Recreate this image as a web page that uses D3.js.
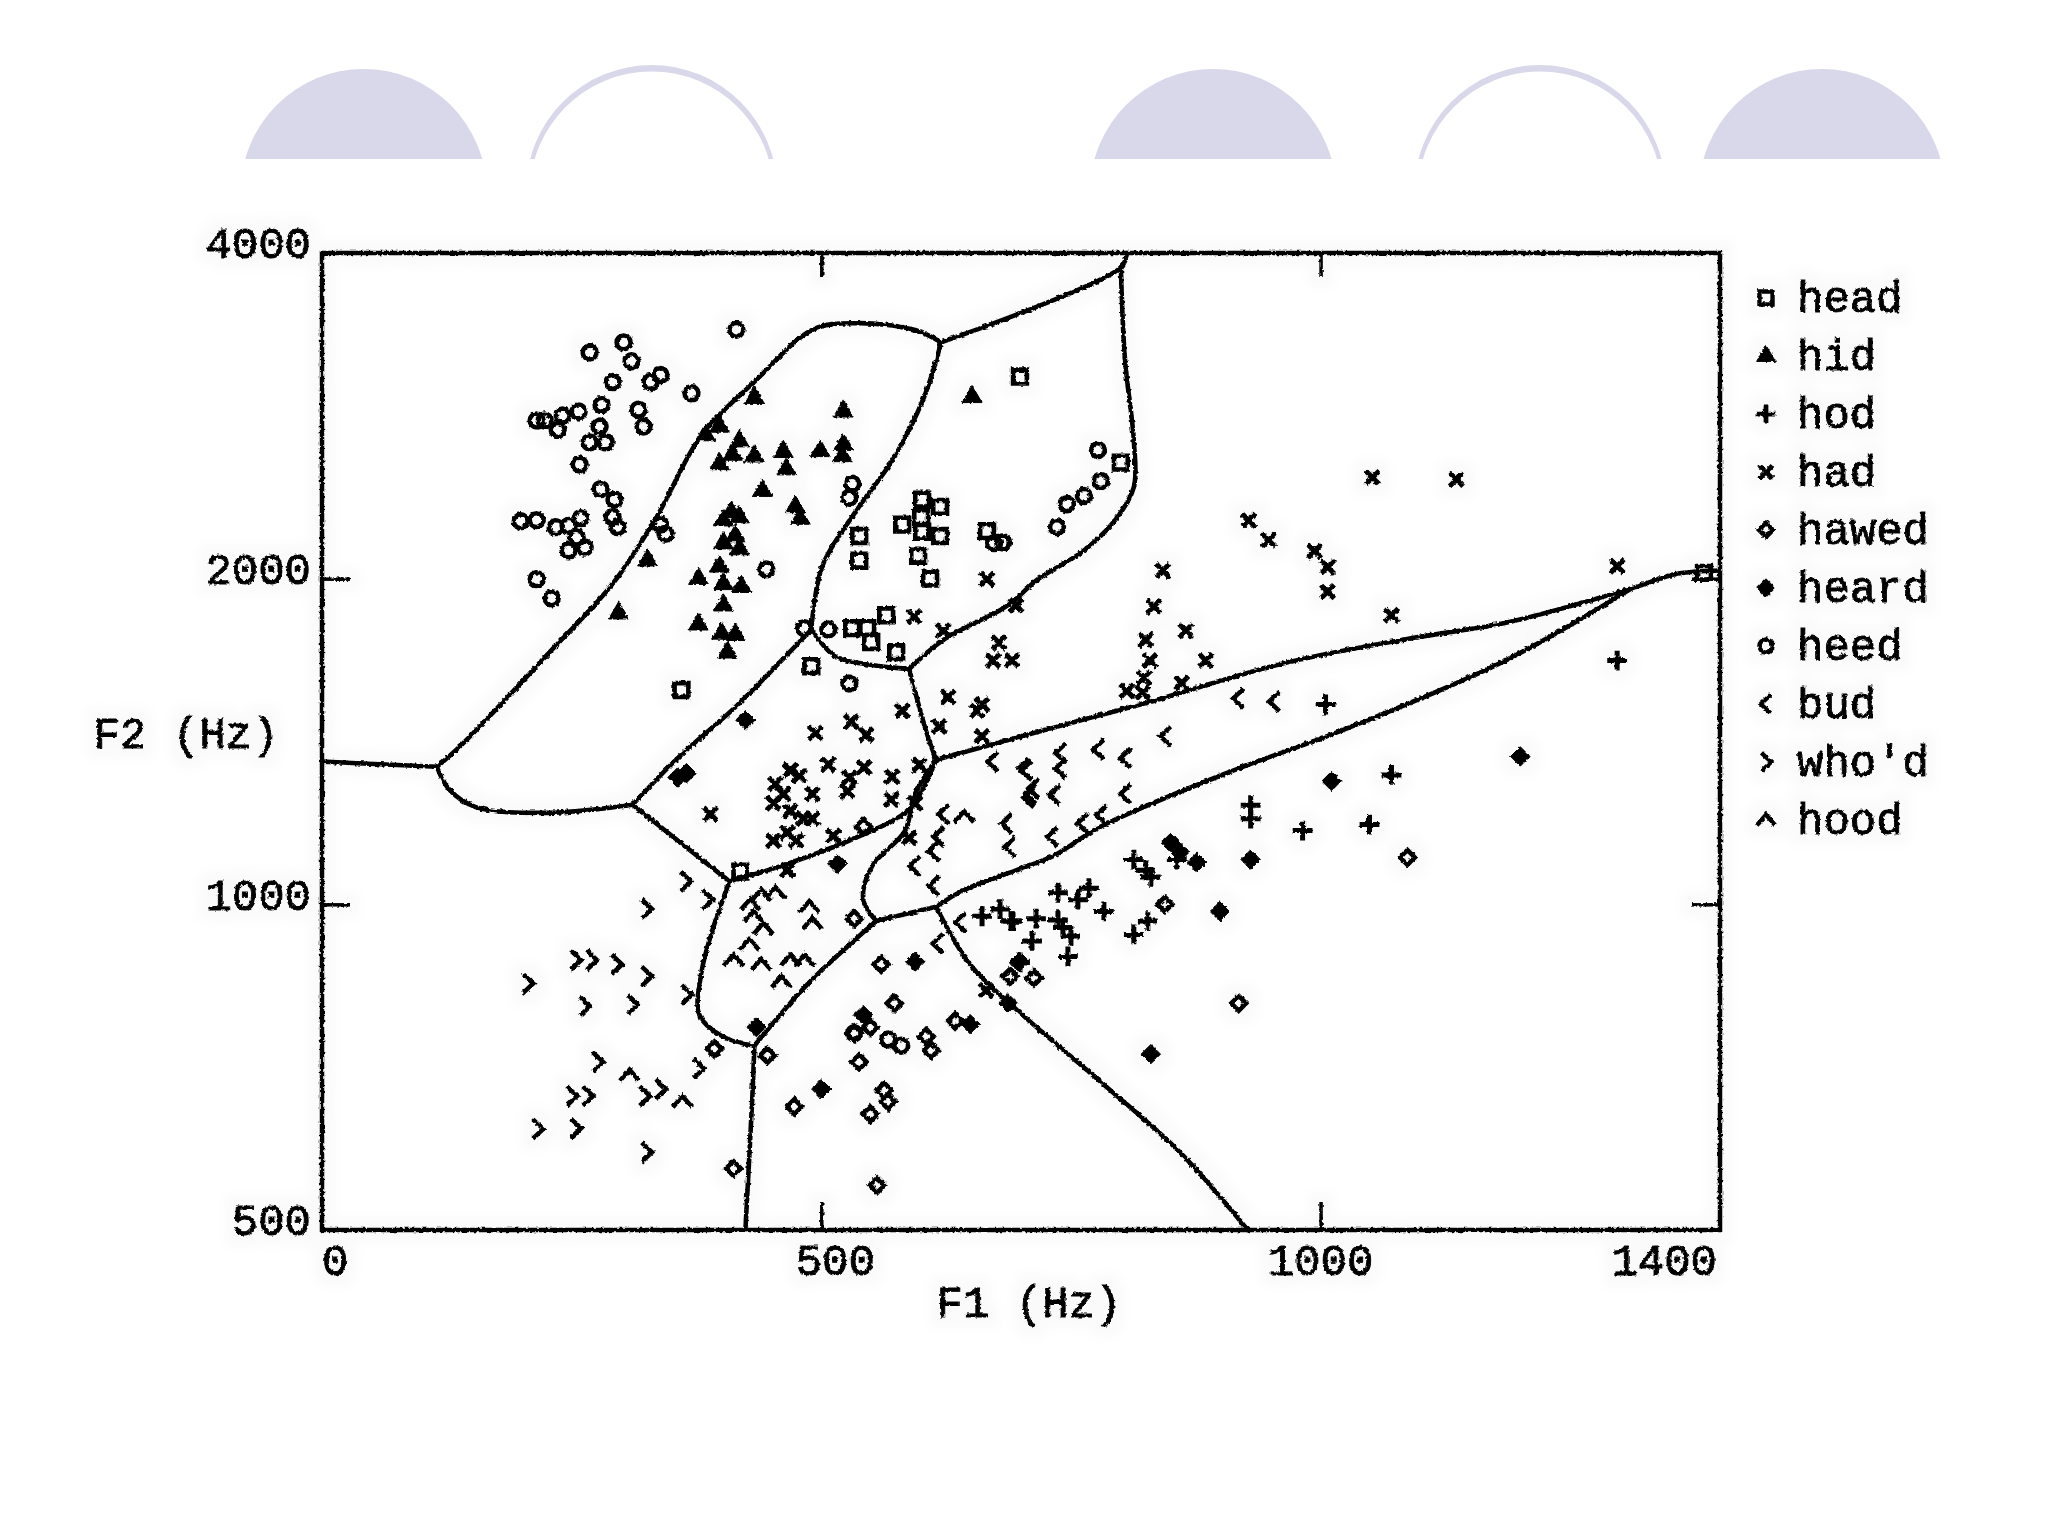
<!DOCTYPE html>
<html><head><meta charset="utf-8">
<script src="https://cdn.jsdelivr.net/npm/d3@7/dist/d3.min.js"></script>
<style>html,body{margin:0;background:#fff}svg{display:block}text{font-family:"Liberation Mono",monospace;fill:#000;stroke:#000;stroke-width:.9px}</style>
</head><body><svg id="c" width="2048" height="1536"></svg>
<script>
// Formant values: [F1 Hz, F2 Hz]
const head=[[360,1578],[538,2190],[538,2078],[581,2244],[601,2366],[619,2330],[600,2280],[601,2210],[619,2190],[597,2100],[609,2000],[565,1850],[531,1800],[546,1800],[550,1748],[575,1710],[490,1660],[699,3075],[800,2560],[1384,2025],[666,2213],[419,1072]];
const hid=[[433,2940],[384,2715],[398,2765],[418,2680],[398,2553],[411,2605],[433,2595],[462,2620],[465,2525],[499,2625],[522,2660],[521,2597],[522,2856],[441,2412],[474,2330],[479,2273],[410,2305],[402,2265],[418,2280],[414,2190],[402,2157],[418,2130],[398,2053],[377,2000],[402,1978],[420,1966],[326,2080],[297,1858],[402,1890],[377,1815],[400,1780],[414,1775],[406,1710],[651,2945]];
const hod=[[1297,1680],[1005,1530],[930,1235],[930,1200],[1071,1317],[982,1170],[1049,1185],[813,1100],[825,1075],[830,1060],[737,1025],[757,1010],[768,1035],[783,985],[827,965],[813,938],[737,967],[742,952],[750,935],[711,925],[747,895],[692,965],[715,970],[679,990],[690,965],[661,975],[699,884],[856,1100]];
const had=[[1052,2480],[1136,2470],[928,2265],[948,2170],[994,2120],[1007,2050],[1007,1945],[1297,2054],[1071,1850],[842,2035],[833,1885],[865,1790],[825,1755],[829,1680],[885,1680],[823,1620],[861,1602],[806,1575],[822,1570],[666,1998],[593,1845],[622,1790],[678,1745],[672,1680],[691,1680],[627,1555],[661,1530],[618,1460],[656,1510],[661,1430],[581,1510],[695,1890],[494,1440],[530,1475],[545,1435],[507,1347],[528,1310],[543,1338],[526,1272],[469,1330],[454,1292],[491,1265],[452,1240],[469,1220],[491,1200],[466,1165],[452,1145],[475,1145],[512,1157],[466,1075],[571,1312],[570,1250],[594,1240],[588,1152],[598,1345],[478,1315],[462,1265],[482,1200],[389,1212],[665,833]];
const hawed=[[1087,1105],[918,810],[844,1000],[533,970],[560,880],[573,810],[533,760],[549,770],[605,755],[610,733],[634,780],[538,715],[473,650],[563,673],[567,657],[549,640],[556,550],[446,725],[393,735],[412,570],[689,858],[713,855],[542,1180]];
const heard=[[1200,1370],[1011,1300],[930,1100],[876,1093],[859,1118],[850,1140],[899,985],[830,727],[594,885],[542,790],[649,775],[500,675],[435,770],[687,810],[424,1480],[516,1090],[356,1310],[365,1322],[698,885]];
const heed=[[268,3236],[302,3307],[310,3177],[291,3040],[329,3040],[339,3085],[370,2968],[415,3397],[280,2895],[257,2855],[241,2830],[215,2800],[223,2800],[236,2745],[317,2866],[322,2765],[278,2765],[268,2673],[284,2673],[258,2550],[279,2420],[293,2366],[199,2260],[215,2265],[234,2232],[259,2275],[247,2238],[255,2183],[247,2124],[263,2137],[291,2280],[296,2232],[339,2244],[344,2201],[215,1998],[230,1918],[531,2448],[528,2376],[528,1600],[483,1800],[507,1795],[445,2040],[777,2630],[780,2462],[763,2385],[746,2343],[736,2232],[673,2157],[682,2160],[567,750],[580,740],[533,760]];
const bud=[[918,1550],[954,1540],[845,1430],[778,1390],[805,1365],[740,1380],[740,1335],[703,1335],[713,1280],[708,1255],[734,1262],[805,1265],[781,1210],[762,1188],[732,1155],[686,1188],[689,1130],[672,1355],[706,1330],[710,1265],[617,920],[640,962],[623,1212],[618,1155],[613,1120],[594,1085],[613,1040]];
const whod=[[254,888],[270,888],[295,880],[325,858],[206,845],[263,805],[311,808],[365,825],[276,715],[339,675],[323,665],[250,665],[266,665],[216,620],[254,621],[325,590],[325,990],[364,1050],[386,1010],[377,705]];
const hood=[[440,1020],[454,1025],[429,1000],[432,975],[442,950],[488,995],[491,960],[428,918],[412,888],[440,880],[469,888],[483,888],[460,848],[308,695],[361,657],[643,1205]];

const legendLabels=["head","hid","hod","had","hawed","heard","heed","bud","who'd","hood"];
const seriesValues=[head,hid,hod,had,hawed,heard,heed,bud,whod,hood];
const xTickValues=[0,500,1000,1400];
const yTickValues=[500,1000,2000,4000];

// Decision boundaries [F1 Hz, F2 Hz]
const edgeLeft=[[0,1355],[115,1340]];
const edgeOuter=[[115,1340],[140,1405],[224,1695],[291,1978],[335,2280],[380,2715],[433,3040],[492,3400],[537,3445],[594,3395],[620,3307]];
const edgeTop=[[620,3307],[800,3880],[806,4000]];
const edgeRightLobe=[[800,3880],[804,3200],[813,2680],[813,2430],[795,2270],[762,2120],[717,1998],[692,1905],[679,1870],[622,1755],[588,1650]];
const edgeInner=[[620,3307],[603,2945],[572,2580],[537,2325],[501,2054],[490,1795]];
const edgeCurve=[[490,1795],[514,1695],[541,1670],[588,1650]];
const edgeDiag=[[490,1795],[476,1740],[415,1525],[358,1370],[311,1236]];
const edgeLower=[[115,1340],[128,1275],[154,1230],[226,1215],[311,1236]];
const edgeHadLeft=[[311,1236],[408,1050]];
const edgeHod=[[408,1050],[466,1090],[537,1155],[588,1225],[615,1360]];
const edgeStem=[[588,1650],[605,1446],[615,1360]];
const edgeUpperLong=[[615,1360],[679,1412],[751,1472],[825,1535],[966,1673],[1088,1760],[1190,1825],[1312,1960],[1356,2020],[1400,2035]];
const edgeLowerLong=[[615,995],[642,1030],[695,1075],[732,1108],[780,1180],[913,1330],[1019,1445],[1185,1680],[1312,1960]];
const edgeBudLeft=[[615,1360],[593,1260],[584,1170],[551,1085],[542,1010],[555,965]];
const edgeBudBase=[[555,965],[615,995]];
const edgeHoodLeft=[[408,1050],[390,940],[380,865],[378,790],[401,755],[433,740]];
const edgeHoodRight=[[555,965],[487,845],[433,740]];
const edgeBottom=[[433,740],[431,665],[424,500]];
const edgeRightLow=[[615,995],[649,880],[695,800],[784,680],[859,590],[927,500]];
const boundaries=[edgeLeft,edgeOuter,edgeTop,edgeRightLobe,edgeInner,edgeCurve,edgeDiag,edgeLower,edgeHadLeft,edgeHod,edgeStem,edgeUpperLong,edgeLowerLong,edgeBudLeft,edgeBudBase,edgeHoodLeft,edgeHoodRight,edgeBottom,edgeRightLow];

const svg=d3.select("#c");
const x=d3.scaleLinear().domain([0,1400]).range([322,1720]);
const y=d3.scaleLog().domain([500,4000]).range([1230,253]);

// Slide decoration
const deco=svg.append("g");
const clip=svg.append("defs").append("clipPath").attr("id","dc");
clip.append("rect").attr("x",0).attr("y",0).attr("width",2048).attr("height",159);
const dg=deco.attr("clip-path","url(#dc)");
[[363.7,0],[651.7,1],[1213,0],[1540,1],[1822,0]].forEach(([cx,hollow])=>{
  dg.append("circle").attr("cx",cx).attr("cy",hollow?190.5:192).attr("r",hollow?125.5:123).attr("fill","#d9d8ea");
  if(hollow)dg.append("circle").attr("cx",cx).attr("cy",193.5).attr("r",122).attr("fill","#fff");
});

// Scanned look
const defs=svg.append("defs");
const f=defs.append("filter").attr("id","scan").attr("filterUnits","userSpaceOnUse").attr("x",0).attr("y",160).attr("width",2048).attr("height",1300);
f.append("feTurbulence").attr("type","fractalNoise").attr("baseFrequency",0.35).attr("numOctaves",1).attr("seed",4).attr("result","n");
f.append("feDisplacementMap").attr("in","SourceGraphic").attr("in2","n").attr("scale",4).attr("xChannelSelector","R").attr("yChannelSelector","G").attr("result","d");
f.append("feMorphology").attr("in","d").attr("operator","dilate").attr("radius",10).attr("result","fat");
f.append("feGaussianBlur").attr("in","fat").attr("stdDeviation",5).attr("result","b");
f.append("feFlood").attr("flood-color","#000").attr("flood-opacity",0.018).attr("result","fl");
f.append("feComposite").attr("in","fl").attr("in2","b").attr("operator","in").attr("result","halo");
const m=f.append("feMerge");m.append("feMergeNode").attr("in","halo");m.append("feMergeNode").attr("in","d");

const g=svg.append("g").attr("filter","url(#scan)");

// Frame
g.append("rect").attr("x",x(0)).attr("y",y(4000)).attr("width",x(1400)-x(0)).attr("height",y(500)-y(4000)).attr("fill","none").attr("stroke","#000").attr("stroke-width",4.5);

// Axes (ticks on all four sides)
const axes=[
 d3.axisBottom(x).tickValues([500,1000]).tickSize(-28).tickFormat(""),
 d3.axisTop(x).tickValues([500,1000]).tickSize(-24).tickFormat(""),
 d3.axisLeft(y).tickValues([1000,2000]).tickSize(-28).tickFormat(""),
 d3.axisRight(y).tickValues([1000,2000]).tickSize(-28).tickFormat("")
];
const tr=[`translate(0,${y(500)})`,`translate(0,${y(4000)})`,`translate(${x(0)},0)`,`translate(${x(1400)},0)`];
axes.forEach((a,i)=>{const s=g.append("g").attr("transform",tr[i]).call(a);s.select(".domain").remove();s.selectAll("line").attr("stroke","#000").attr("stroke-width",3.5);});

// Tick labels
const fs=44;
g.selectAll(".yl").data(yTickValues).join("text").attr("x",311).attr("y",d=>y(d)-10).attr("dy","0.35em").attr("text-anchor","end").attr("font-size",fs).text(d=>d);
g.selectAll(".xl").data(xTickValues).join("text")
 .attr("x",d=>d===0?x(0):d===500?x(500)+14:d===1400?x(1400)-3:x(d))
 .attr("y",1260).attr("dy","0.35em")
 .attr("text-anchor",d=>d===0?"start":d===1400?"end":"middle").attr("font-size",fs).text(d=>d);
g.append("text").attr("x",1029).attr("y",1302).attr("dy","0.35em").attr("text-anchor","middle").attr("font-size",fs).text("F1 (Hz)");
g.append("text").attr("x",186).attr("y",733).attr("dy","0.35em").attr("text-anchor","middle").attr("font-size",fs).text("F2 (Hz)");

// Boundaries
const line=d3.line().x(d=>x(d[0])).y(d=>y(d[1])).curve(d3.curveCatmullRom.alpha(0.5));
g.selectAll(".b").data(boundaries).join("path").attr("d",line).attr("fill","none").attr("stroke","#000").attr("stroke-width",4.6).attr("stroke-linejoin","round").attr("stroke-linecap","round");

// Symbols
const chev=(pts)=>({draw(c,s){const r=Math.sqrt(s);pts.forEach(([a,b],i)=>i?c.lineTo(a*r,b*r):c.moveTo(a*r,b*r));}});
const mk=[
 {t:d3.symbolSquare,s:190,fill:false},
 {t:d3.symbolTriangle,s:170,fill:true},
 {t:d3.symbolPlus,s:130,fill:true,stroke:true},
 {t:d3.symbolTimes,s:120,fill:true,stroke:true},
 {t:d3.symbolDiamond2,s:140,fill:false},
 {t:d3.symbolDiamond2,s:240,fill:true},
 {t:d3.symbolCircle,s:150,fill:false},
 {t:chev([[.35,-.7],[-.4,0],[.35,.7]]),s:190,open:true},
 {t:chev([[-.35,-.7],[.4,0],[-.35,.7]]),s:190,open:true},
 {t:chev([[-.7,.4],[0,-.4],[.7,.4]]),s:190,open:true}
];
function mark(sel,i){
  const k=mk[i];
  sel.attr("d",d3.symbol().type(k.t).size(k.s)())
   .attr("fill",(k.fill&&!k.stroke)?"#000":"none")
   .attr("stroke","#000")
   .attr("stroke-width",k.open?4.5:k.stroke?5:(k.fill?1:4.6));
}
seriesValues.forEach((vals,i)=>{
  g.append("g").selectAll("path").data(vals).join("path")
   .attr("transform",d=>`translate(${x(d[0])},${y(d[1])})`).call(mark,i);
});

// Legend
const legendY=d3.scalePoint().domain(legendLabels).range([298,820]);
const lg=g.append("g").selectAll("g").data(legendLabels).join("g").attr("transform",d=>`translate(0,${legendY(d)})`);
lg.each(function(d,i){d3.select(this).append("path").attr("transform","translate(1766,0) scale(.95)").call(mark,i);});
lg.append("text").attr("x",1797).attr("dy","0.32em").attr("font-size",fs).text(d=>d);
</script></body></html>
